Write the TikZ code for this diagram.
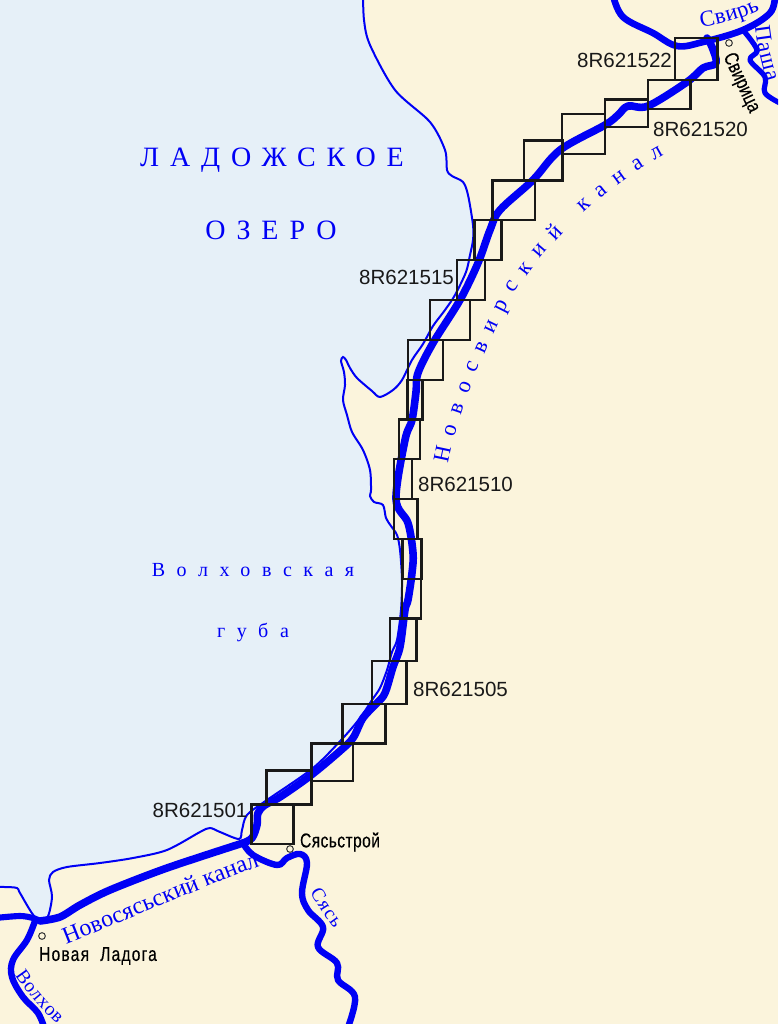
\documentclass[tikz,border=0pt]{standalone}
\usepackage{fontspec}
\usetikzlibrary{decorations.text}
\setmainfont{Liberation Sans}
\newfontfamily\serf{Liberation Serif}
\newfontfamily\condf[FakeStretch=0.78,FakeBold=0.3]{Liberation Sans}
\definecolor{land}{RGB}{251,244,220}
\definecolor{lake}{RGB}{230,240,248}
\definecolor{rv}{RGB}{0,0,245}
\tikzset{
  shoreline/.style={draw=rv,line width=1.5pt,fill=lake},
  river/.style={draw=rv,line width=#1,line cap=round,line join=round},
  sheet/.style={draw=black!90,line width=2pt,line join=miter},
  sheetlabel/.style={font=\fontsize{15.4}{16}\selectfont,text=black!90,inner sep=0pt},
  town/.style={font=\fontsize{15}{16}\selectfont\condf,text=black,inner sep=0pt},
  townmark/.style={circle,draw=black!75,fill=land,line width=0.8pt,minimum size=5pt,inner sep=0pt},
  bigname/.style={font=\fontsize{21}{24}\selectfont\serf\addfontfeatures{LetterSpace=39},text=rv,inner sep=0pt},
  bayname/.style={font=\fontsize{15}{18}\selectfont\serf\addfontfeatures{LetterSpace=58},text=rv,inner sep=0pt},
  curvedname/.style 2 args={decorate,decoration={text along path,text align=fit to path,
    text={|\fontsize{#1}{#1}\selectfont\serf\color{rv}|#2}}},
}
\begin{document}
\begin{tikzpicture}[x=0.75pt,y=-0.75pt]
\useasboundingbox (0,0) rectangle (778,1024);
\clip (0,0) rectangle (778,1024);
\fill[land] (0,0) rectangle (778,1024);
% lake and shoreline
\draw[shoreline] (-9,-9) -- plot[smooth,tension=0.5] coordinates {
 (363,-9) (364,20) (370,45) (395,90) (430,122) (445,150) (447,170) (452,176) (463,182) (468,195) (473,225) (473,240) (470,255) (466,272)
 (455,295) (445,310) (433,326) (423,344) (412,360) (402,380) (393,390) (380,397) (372,391) (357,378) (350,368) (346,360) (343,357) (341,361)
 (344,372) (345,385) (343,400) (347,415) (352,432) (363,450) (370,470) (371,490) (370,496) (374,502) (383,505) (386,518) (391,526) (397,535)
 (400,550) (402,580) (401,610) (397,640) (392,652) (387,670) (380,688) (372,700) (360,718) (343,738) (313,768) (267,800) (247,815) (242,830)
 (239,839) (220,832) (210,828) (200,832) (167,850) (133,858) (100,863) (67,867) (53,872) (49,880) (52,897) (47,918) (35,917) (20,893) (17,888) (5,887) (-9,887)
} -- cycle;
% rivers
\draw[river=5.7pt] plot[smooth,tension=0.55] coordinates {
 (243,843) (252,838) (257,825) (258,813) (265,805) (280,797) (310,776) (340,751) (353,738) (363,718) (377,703) (385,693) (393,667) (400,647)
 (405,610) (408,600) (412,573) (413,553) (408,523) (396,499) (405,440) (412,420) (416,392) (418,373) (433,343) (460,300) (478,263) (490,230)
 (500,210) (533,180) (560,150) (605,125) (618,115) (628,106) (648,106) (687,82) (703,68) (716,63) (712,47) (707,38)};
\draw[river=5.7pt] plot[smooth,tension=0.5] coordinates {
 (243,843) (167,868) (110,890) (80,905) (60,917) (40,921)};
\draw[river=4.6pt] plot[smooth,tension=0.5] coordinates {(40,921) (33,918) (20,916) (-5,918)};
\draw[river=4.8pt] plot[smooth,tension=0.6] coordinates {
 (35,921) (27,940) (13,960) (12,977) (23,997) (38,1013) (45,1030)};
\draw[river=4.8pt] plot[smooth,tension=0.6] coordinates {
 (243,843) (253,855) (277,865) (287,858) (300,854) (307,863) (302,893) (308,910) (323,927) (318,947) (337,963) (338,980) (355,997) (347,1030)};
\draw[river=5pt] plot[smooth,tension=0.6] coordinates {
 (613,-5) (623,17) (653,33) (677,46) (703,42) (743,30) (770,13) (775,-5)};
\draw[river=3.9pt] plot[smooth,tension=0.6] coordinates {
 (743,30) (757,50) (750,60) (765,77) (765,93) (782,104)};
% map sheets
\foreach \xa/\ya/\xb/\yb in {675/38/717.7/80,648/80/690.7/109,605/99.5/648/127,562/114/605/154,524/140.7/562.7/180.7,
 492.7/180.7/535/220,474.7/220/501.7/260,457/260/485/300,430/300/470/340,408/340/443/380,407.3/380/422.7/419.5,
 399/419.5/420/459,394/459/412/499,394/499/417.7/539,402.7/539/421.3/579,402/579/421/618.5,390/618.5/416.7/661,
 372/661/406.7/704,342.7/704/385.3/743.7,311.3/743.7/353/781,266.7/770.3/311.3/804.7,251.3/804.7/293.3/844}
 {\draw[sheet] (\xa,\ya) rectangle (\xb,\yb);}
% sheet labels
\node[sheetlabel] (s22) at (624.5,60) {8R621522};
\node[sheetlabel] (s20) at (700.5,129) {8R621520};
\node[sheetlabel] (s15) at (406.5,277) {8R621515};
\node[sheetlabel] (s10) at (465.5,484) {8R621510};
\node[sheetlabel] (s05) at (460.5,689) {8R621505};
\node[sheetlabel] (s01) at (200,810) {8R621501};
% towns
\node[townmark] (m1) at (42,936) {};
\node[townmark] (m2) at (290,849) {};
\node[townmark] (m3) at (729,43) {};
\node[town,font=\fontsize{15}{16}\selectfont\condf\addfontfeatures{LetterSpace=6}] (t1) at (98,956) {Новая\ \ Ладога};
\node[town,font=\fontsize{15}{16}\selectfont\condf\addfontfeatures{LetterSpace=2}] (t2) at (340,842) {Сясьстрой};
\node[town,rotate=-65] (t3) at (741,83) {Свирица};
% water names
\node[bigname] (n1) at (272,160) {ЛАДОЖСКОЕ};
\node[bigname] (n2) at (271,230) {ОЗЕРО};
\node[bayname] (n3) at (253,570) {Волховская};
\node[bayname] (n4) at (253,632) {губа};
\path[curvedname={17}{Новосвирский канал}]
 (448,464) .. controls (456,420) and (478,362) .. (513,295) .. controls (545,245) and (600,190) .. (664,155);
\path[curvedname={18}{Новосясьский канал}]
 (66,944) .. controls (120,923) and (200,888) .. (260,866);
\path[curvedname={17}{Свирь}]
 (701,27) .. controls (720,24) and (740,19) .. (760,10);
\path[curvedname={17}{Паша}]
 (755,26) .. controls (757,45) and (761,62) .. (767,82);
\path[curvedname={14.5}{Сясь}]
 (310,892) .. controls (317,904) and (325,917) .. (334,929);
\path[curvedname={14.5}{Волхов}]
 (15,975) .. controls (25,990) and (40,1008) .. (57,1024);
\end{tikzpicture}
\end{document}
